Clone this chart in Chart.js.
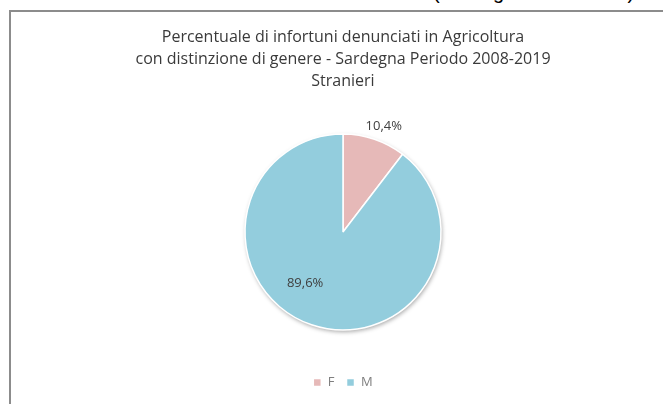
<!DOCTYPE html>
<html>
<head>
<meta charset="utf-8">
<script src="https://cdn.jsdelivr.net/npm/chart.js@4.4.0/dist/chart.umd.min.js"></script>
<style>
  html, body { margin: 0; padding: 0; background: #fff; overflow: hidden; }
  #wrap { position: relative; width: 663px; height: 404px; overflow: hidden; }
  #frame { position: absolute; left: 9px; top: 10px; width: 700px; height: 500px;
           border-left: 2px solid #8c8c8c; border-top: 2px solid #8c8c8c; }
  #cut { position: absolute; left: 433px; top: -18px; font: 20px "Liberation Sans", Arial, sans-serif;
         line-height: 20px; color: #000; white-space: nowrap; }
  canvas { position: absolute; left: 0; top: 0; }
</style>
</head>
<body>
<div id="wrap">
  <div id="cut">(Sardegna 2008-2019)</div>
  <div id="frame"></div>
  <canvas id="chart" width="663" height="404"></canvas>
</div>
<script>
const titleLines = [
  'Percentuale di infortuni denunciati in Agricoltura',
  'con distinzione di genere - Sardegna Periodo 2008-2019',
  'Stranieri'
];
const categories = ['F', 'M'];
const values = [10.4, 89.6];
const valueLabels = ['10,4%', '89,6%'];
const sliceColors = ['#E6B9B8', '#93CDDD'];

// where each percentage sits: fraction of the radius, and turn from the slice middle
const labelRadius = [1.16, 0.65];
const labelTurn = [0.04, 0.31];

const pieShadow = {
  id: 'pieShadow',
  beforeDatasetsDraw(chart) {
    const arc = chart.getDatasetMeta(0).data[0];
    if (!arc) return;
    const { x, y, outerRadius } = arc.getProps(['x', 'y', 'outerRadius'], true);
    const ctx = chart.ctx;
    ctx.save();
    ctx.shadowColor = 'rgba(0,0,0,0.35)';
    ctx.shadowBlur = 4;
    ctx.shadowOffsetX = 1;
    ctx.shadowOffsetY = 2;
    ctx.fillStyle = '#fff';
    ctx.beginPath();
    ctx.arc(x, y, outerRadius, 0, Math.PI * 2);
    ctx.fill();
    ctx.restore();
  }
};

const sliceLabels = {
  id: 'sliceLabels',
  afterDatasetsDraw(chart) {
    const ctx = chart.ctx;
    ctx.save();
    ctx.font = '13px "Open Sans", "Liberation Sans", sans-serif';
    ctx.fillStyle = '#404040';
    ctx.textAlign = 'center';
    ctx.textBaseline = 'middle';
    chart.getDatasetMeta(0).data.forEach((arc, i) => {
      const p = arc.getProps(['x', 'y', 'startAngle', 'endAngle', 'outerRadius'], true);
      const a = (p.startAngle + p.endAngle) / 2 + labelTurn[i];
      const r = p.outerRadius * labelRadius[i];
      ctx.fillText(valueLabels[i], p.x + Math.cos(a) * r, p.y + Math.sin(a) * r);
    });
    ctx.restore();
  }
};

new Chart(document.getElementById('chart'), {
  type: 'pie',
  data: {
    labels: categories,
    datasets: [{
      data: values,
      backgroundColor: sliceColors,
      borderColor: '#ffffff',
      borderWidth: 1.5
    }]
  },
  options: {
    responsive: false,
    animation: false,
    radius: 98,
    layout: { padding: { left: 23, right: 0, top: 0, bottom: 5 } },
    plugins: {
      title: {
        display: true,
        text: titleLines,
        color: '#3a3a3a',
        font: { family: '"Open Sans", "Liberation Sans", sans-serif', size: 16, weight: 'normal', lineHeight: '22px' },
        padding: { top: 26, bottom: 8 }
      },
      legend: {
        position: 'bottom',
        labels: {
          color: '#7f7f7f',
          boxWidth: 8,
          boxHeight: 8,
          padding: 12,
          font: { family: '"Open Sans", "Liberation Sans", sans-serif', size: 13 }
        }
      },
      tooltip: { enabled: false }
    }
  },
  plugins: [pieShadow, sliceLabels]
});
</script>
</body>
</html>
